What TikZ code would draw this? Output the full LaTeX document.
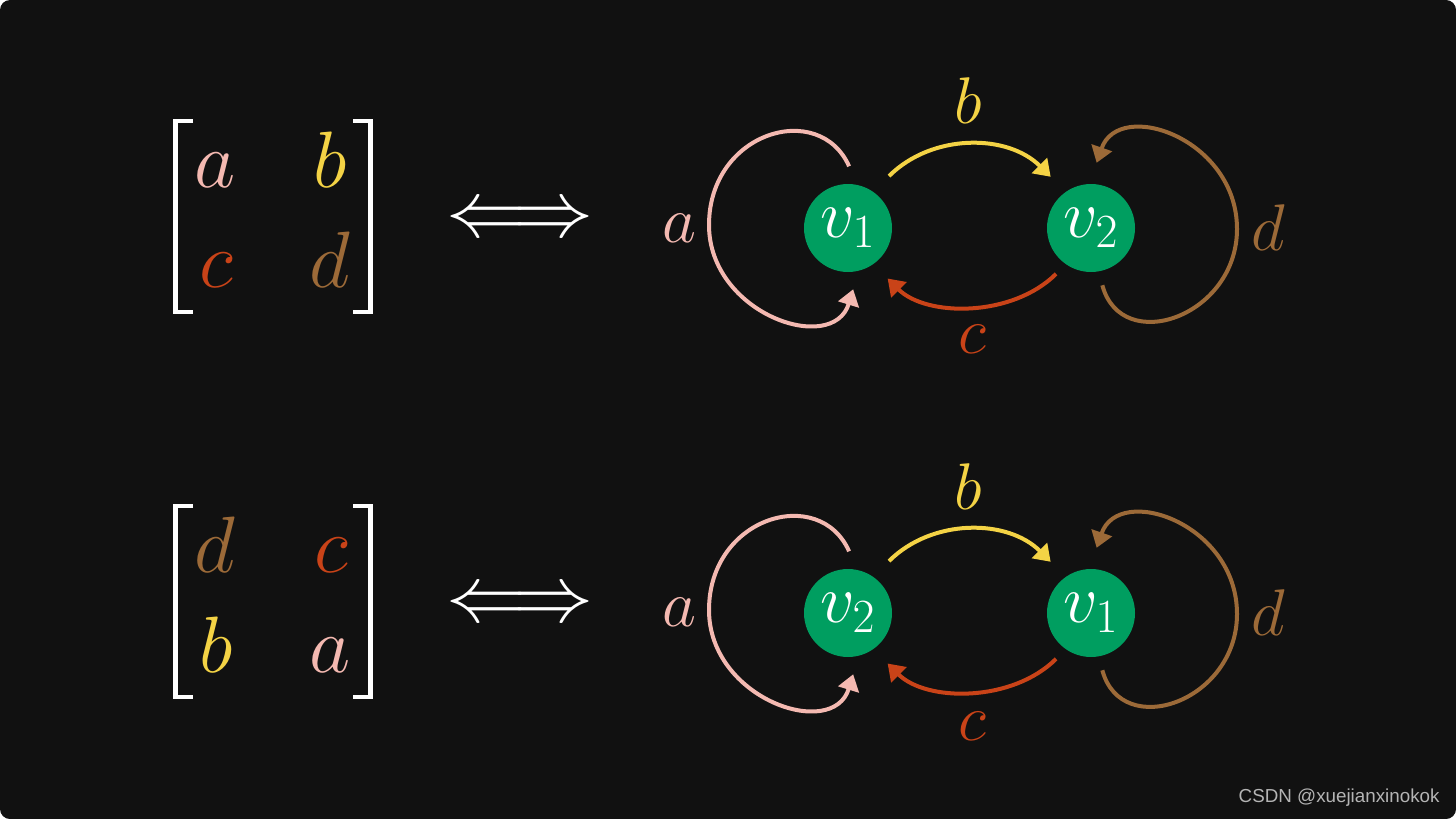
\RequirePackage{fix-cm}
\documentclass[tikz,border=0pt]{standalone}
\usepackage{amsmath}
\usepackage{fontspec}
\newfontfamily\wmfont{Liberation Sans}
\usetikzlibrary{arrows.meta}
\definecolor{bgc}{HTML}{111111}
\definecolor{pinkc}{HTML}{F4B9B1}
\definecolor{yellowc}{HTML}{F4D345}
\definecolor{redc}{HTML}{C94318}
\definecolor{brownc}{HTML}{9C6A38}
\definecolor{greenc}{HTML}{009E60}
\definecolor{wmgray}{HTML}{B4B4B4}

\begin{document}
\begin{tikzpicture}[x=0.5pt,y=0.5pt,
    vtx/.style={circle,fill=greenc,minimum size=44pt,inner sep=0pt,text=white,font=\fontsize{34}{40}\selectfont},
    ent/.style={anchor=base,inner sep=0pt,font=\fontsize{40}{48}\selectfont},
    lbl/.style={anchor=base,inner sep=0pt,font=\fontsize{33}{40}\selectfont},
    bracket/.style={white,line width=2.3pt},
    iffarrow/.style={text=white,font=\fontsize{40}{46}\selectfont},
    link/.style={line width=2pt,-{Triangle[length=8pt,width=10.5pt]}},
    wm/.style={text=wmgray,inner sep=0pt,font=\wmfont\fontsize{9.4}{11}\selectfont}]
  \fill[white] (0,0) rectangle (1456,-819);
  \fill[bgc,rounded corners=5pt] (0,0) rectangle (1456,-819);
  \useasboundingbox (0,0) rectangle (1456,-819);

  % top matrix
  \draw[bracket] (193,-121) -| (175.5,-312) -- (193,-312);
  \draw[bracket] (353,-121) -| (370.5,-312) -- (353,-312);
  \node[ent,text=pinkc] (p11) at (215,-187) {$a$};
  \node[ent,text=yellowc] (p12) at (330,-187) {$b$};
  \node[ent,text=redc] (p21) at (216,-287) {$c$};
  \node[ent,text=brownc] (p22) at (330,-287) {$d$};
  \node[iffarrow] (iff1) at (520,-222) {$\Longleftrightarrow$};

  % top graph
  \node[vtx] (v1) at (848,-228) {$v_1$};
  \node[vtx] (v2) at (1091,-228) {$v_2$};
  \coordinate (aL1) at (709,-225);
  \coordinate (dR1) at (1237,-229);
  \draw[link,pinkc,shorten <=10pt,shorten >=9.5pt] (v1.78) to[out=114,in=90,looseness=1.55] (aL1)
    to[out=-90,in=-107,looseness=1.45] (v1.-76);
  \draw[link,yellowc,shorten <=11pt,shorten >=10.5pt] (v1.55) to[out=45,in=135,looseness=1.1] (v2.125);
  \draw[link,redc,shorten <=6.7pt,shorten >=10pt] (v2.-125) to[out=-135,in=-45,looseness=1.0] (v1.-55);
  \draw[link,brownc,shorten <=7pt,shorten >=11pt] (v2.-80) to[out=-75,in=-90,looseness=1.55] (dR1)
    to[out=90,in=71,looseness=1.5] (v2.92);
  \node[lbl,text=pinkc] (la1) at (679,-242) {$a$};
  \node[lbl,text=yellowc] (lb1) at (968,-123) {$b$};
  \node[lbl,text=redc] (lc1) at (972,-353) {$c$};
  \node[lbl,text=brownc] (ld1) at (1268,-250) {$d$};

  % bottom matrix
  \draw[bracket] (193,-506) -| (175.5,-697) -- (193,-697);
  \draw[bracket] (353,-506) -| (370.5,-697) -- (353,-697);
  \node[ent,text=brownc] (q11) at (215,-572) {$d$};
  \node[ent,text=redc] (q12) at (331,-572) {$c$};
  \node[ent,text=yellowc] (q21) at (216,-672) {$b$};
  \node[ent,text=pinkc] (q22) at (330,-672) {$a$};
  \node[iffarrow] (iff2) at (520,-607) {$\Longleftrightarrow$};

  % bottom graph
  \node[vtx] (w2) at (848,-613) {$v_2$};
  \node[vtx] (w1) at (1091,-613) {$v_1$};
  \coordinate (aL2) at (709,-610);
  \coordinate (dR2) at (1237,-614);
  \draw[link,pinkc,shorten <=10pt,shorten >=9.5pt] (w2.78) to[out=114,in=90,looseness=1.55] (aL2)
    to[out=-90,in=-107,looseness=1.45] (w2.-76);
  \draw[link,yellowc,shorten <=11pt,shorten >=10.5pt] (w2.55) to[out=45,in=135,looseness=1.1] (w1.125);
  \draw[link,redc,shorten <=6.7pt,shorten >=10pt] (w1.-125) to[out=-135,in=-45,looseness=1.0] (w2.-55);
  \draw[link,brownc,shorten <=7pt,shorten >=11pt] (w1.-80) to[out=-75,in=-90,looseness=1.55] (dR2)
    to[out=90,in=71,looseness=1.5] (w1.92);
  \node[lbl,text=pinkc] (la2) at (679,-626) {$a$};
  \node[lbl,text=yellowc] (lb2) at (968,-509) {$b$};
  \node[lbl,text=redc] (lc2) at (972,-740) {$c$};
  \node[lbl,text=brownc] (ld2) at (1268,-635) {$d$};

  \node[wm,anchor=east] (wm) at (1440,-798) {CSDN @xuejianxinokok};
\end{tikzpicture}
\end{document}
